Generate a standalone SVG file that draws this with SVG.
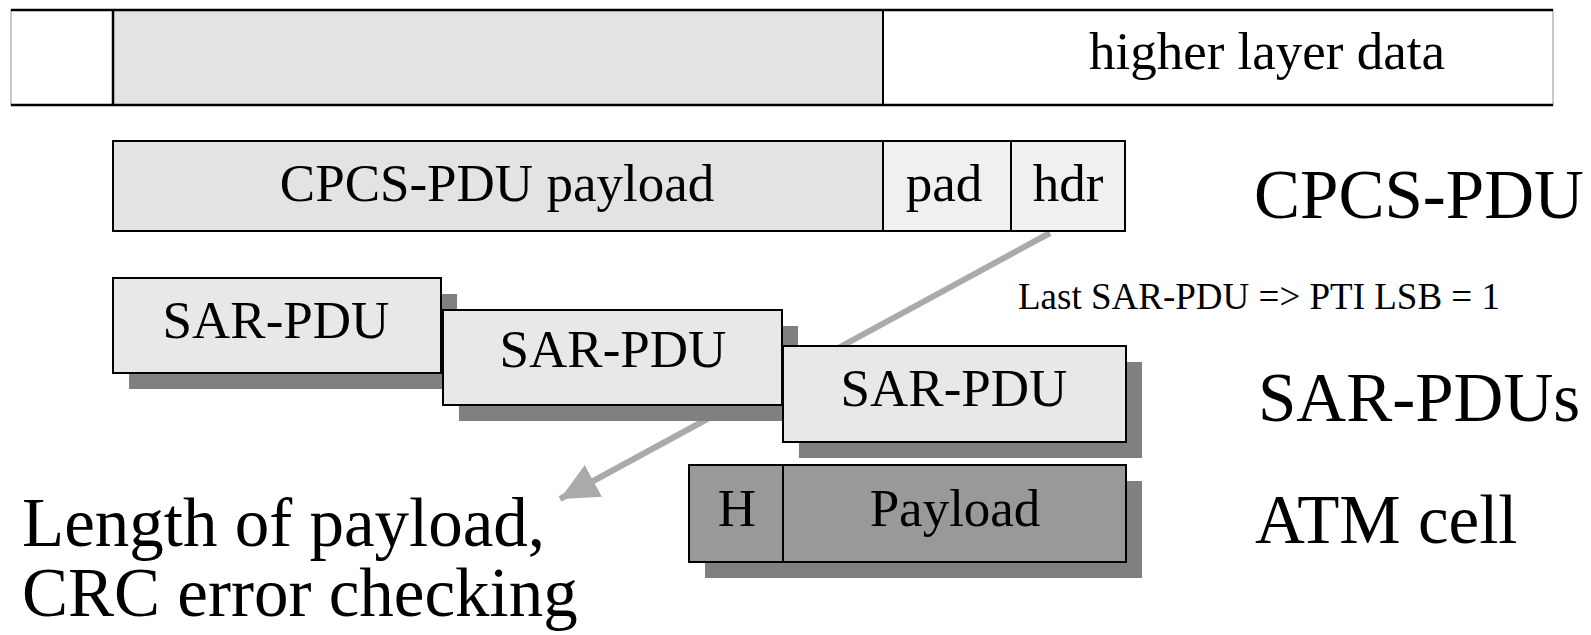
<svg xmlns="http://www.w3.org/2000/svg" width="1591" height="635" viewBox="0 0 1591 635">
  <style>
    .box { stroke: #000; stroke-width: 2; }
    .shadow { fill: #808080; stroke: none; }
    .t { font-family: "Liberation Serif", "Times New Roman", serif; fill: #000; }
    .m { font-size: 53px; text-anchor: middle; }
    .big { font-size: 69px; }
    .small { font-size: 37px; }
    .light { fill: #e3e3e3; }
    .lighter { fill: #f0f0f0; }
    .sar { fill: #e8e8e8; }
    .cell { fill: #999999; }
  </style>
  <defs>
    <marker id="arrow" markerUnits="userSpaceOnUse" markerWidth="42" markerHeight="40" refX="38" refY="18" orient="auto">
      <path d="M0,0 L38,18 L0,36 Z" fill="#aaaaaa"/>
    </marker>
  </defs>
  <rect width="1591" height="635" fill="#fff"/>

  <!-- higher layer data frame -->
  <g id="higher-layer">
    <rect x="11" y="10" width="1542" height="95" fill="#fff" stroke="#c8c8c8" stroke-width="2"/>
    <rect x="113" y="10" width="770" height="95" class="light"/>
    <line x1="11" y1="10" x2="1553" y2="10" stroke="#000" stroke-width="2.5"/>
    <line x1="11" y1="105" x2="1553" y2="105" stroke="#000" stroke-width="2.5"/>
    <line x1="113" y1="10" x2="113" y2="105" stroke="#000" stroke-width="2.5"/>
    <line x1="883" y1="10" x2="883" y2="105" stroke="#000" stroke-width="2"/>
    <text class="t m" x="1267" y="69">higher layer data</text>
  </g>

  <!-- connector from CPCS trailer to the annotation -->
  <g id="connectors">
    <line x1="1050" y1="233" x2="560" y2="499" stroke="#aaaaaa" stroke-width="6" marker-end="url(#arrow)"/>
  </g>

  <!-- CPCS-PDU -->
  <g id="cpcs-pdu">
    <rect x="113" y="141" width="770" height="90" class="box light"/>
    <rect x="883" y="141" width="128" height="90" class="box lighter"/>
    <rect x="1011" y="141" width="114" height="90" class="box lighter"/>
    <text class="t m" x="497" y="201">CPCS-PDU payload</text>
    <text class="t m" x="944" y="201">pad</text>
    <text class="t m" x="1068" y="201">hdr</text>
  </g>

  <!-- SAR-PDUs -->
  <g id="sar-pdu-1">
    <rect x="129" y="294" width="328" height="95" class="shadow"/>
    <rect x="113" y="278" width="328" height="95" class="box sar"/>
    <text class="t m" x="276" y="338">SAR-PDU</text>
  </g>
  <g id="sar-pdu-2">
    <rect x="459" y="326" width="339" height="95" class="shadow"/>
    <rect x="443" y="310" width="339" height="95" class="box sar"/>
    <text class="t m" x="613" y="367">SAR-PDU</text>
  </g>
  <g id="sar-pdu-3">
    <rect x="799" y="362" width="343" height="96" class="shadow"/>
    <rect x="783" y="346" width="343" height="96" class="box sar"/>
    <text class="t m" x="954" y="406">SAR-PDU</text>
  </g>

  <!-- ATM cell -->
  <g id="atm-cell">
    <rect x="705" y="481" width="437" height="97" class="shadow"/>
    <rect x="689" y="465" width="94" height="97" class="box cell"/>
    <rect x="783" y="465" width="343" height="97" class="box cell"/>
    <text class="t m" x="737" y="526">H</text>
    <text class="t m" x="955" y="526">Payload</text>
  </g>

  <!-- row labels -->
  <g id="labels">
    <text class="t big" x="1254" y="218">CPCS-PDU</text>
    <text class="t small" x="1018" y="309">Last SAR-PDU =&gt; PTI LSB = 1</text>
    <text class="t big" x="1258" y="421">SAR-PDUs</text>
    <text class="t big" x="1255" y="543">ATM cell</text>
    <text class="t big" x="22" y="546">Length of payload,</text>
    <text class="t big" x="22" y="616">CRC error checking</text>
  </g>
</svg>
